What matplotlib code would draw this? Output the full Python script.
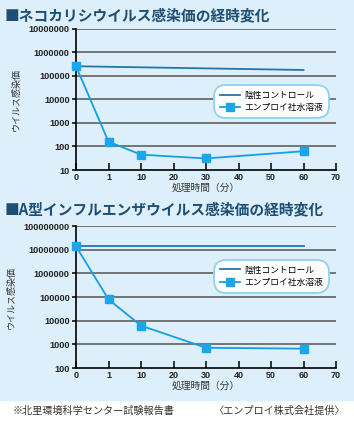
import matplotlib.pyplot as plt
import matplotlib.patches as mpatches
from matplotlib.ticker import FixedLocator, FuncFormatter
import numpy as np

plt.rcParams['font.family'] = ['Noto Sans CJK JP', 'DejaVu Sans']

# x軸の目盛（等間隔に並べる）
time_ticks = [0, 1, 10, 20, 30, 40, 50, 60, 70]

# ネコカリシウイルス
cat_titles = '■ネコカリシウイルス感染価の経時変化'
cat_ctrl_t = [0, 60]
cat_ctrl_v = [260000, 180000]
cat_trt_t = [0, 1, 10, 30, 60]
cat_trt_v = [260000, 160, 45, 31, 63]
cat_yticks = [10, 100, 1000, 10000, 100000, 1000000, 10000000]

# A型インフルエンザウイルス
flu_titles = '■A型インフルエンザウイルス感染価の経時変化'
flu_ctrl_t = [0, 60]
flu_ctrl_v = [14000000, 14000000]
flu_trt_t = [0, 1, 10, 30, 60]
flu_trt_v = [14000000, 80000, 6200, 720, 660]
flu_yticks = [100, 1000, 10000, 100000, 1000000, 10000000, 100000000]

bg = '#ddeffb'
ctrl_color = '#2474a8'
trt_color = '#12a0e3'
title_color = '#1d4e73'


def tpos(t):
    # 時間 -> 等間隔目盛の位置
    return np.interp(t, time_ticks, np.arange(len(time_ticks)))


def draw(ax, ctrl_t, ctrl_v, trt_t, trt_v, yticks, legend_y):
    ax.set_facecolor('none')
    ax.set_yscale('log')
    ax.set_ylim(yticks[0], yticks[-1])
    ax.set_xlim(0, len(time_ticks) - 1)
    for v in yticks[1:]:
        ax.axhline(v, color='#555555', lw=1.1, zorder=1)
    l1, = ax.plot(tpos(ctrl_t), ctrl_v, color=ctrl_color, lw=1.3, zorder=3,
                  label='陰性コントロール', clip_on=False)
    l2, = ax.plot(tpos(trt_t), trt_v, color=trt_color, lw=1.3, marker='s',
                  markersize=6, markerfacecolor='#1aa6ea', markeredgecolor='#1aa6ea',
                  zorder=4, label='エンプロイ社水溶液', clip_on=False)
    ax.spines['top'].set_visible(False)
    ax.spines['right'].set_visible(False)
    ax.spines['left'].set_linewidth(1.2)
    ax.spines['bottom'].set_linewidth(1.2)
    ax.xaxis.set_major_locator(FixedLocator(range(len(time_ticks))))
    ax.set_xticklabels([str(t) for t in time_ticks])
    ax.yaxis.set_major_locator(FixedLocator(yticks))
    ax.yaxis.set_minor_locator(FixedLocator([]))
    ax.yaxis.set_major_formatter(FuncFormatter(lambda v, p: f'{int(round(v))}'))
    ax.tick_params(axis='x', direction='in', length=5, width=1.1, labelsize=6.5, pad=2)
    ax.tick_params(axis='y', direction='out', length=3, width=1.1, labelsize=6.6, pad=1.5)
    for lab in ax.get_xticklabels() + ax.get_yticklabels():
        lab.set_family('Liberation Sans')
        lab.set_fontweight('bold')
        lab.set_color('#222222')
    ax.set_xlabel('処理時間（分）', fontsize=7, color='#333333', labelpad=1)
    ax.set_ylabel('ウイルス感染価', fontsize=6.5, color='#333333', labelpad=6)
    leg = ax.legend(handles=[l1, l2], loc='upper right', bbox_to_anchor=(0.965, legend_y),
                    fontsize=6.3, frameon=True, fancybox=True, handlelength=2.3,
                    borderpad=0.45, labelspacing=0.4, handletextpad=0.5,
                    borderaxespad=0)
    frame = leg.get_frame()
    frame.set_facecolor('white')
    frame.set_edgecolor('#8fd2f2')
    frame.set_linewidth(1.3)
    frame.set_alpha(1)
    frame.set_boxstyle('round,pad=0.2,rounding_size=1.4')


fig = plt.figure(figsize=(3.54, 4.25), dpi=100)
fig.patch.set_facecolor('white')
fig.add_artist(mpatches.Rectangle((0, 1 - 400 / 425), 1, 400 / 425,
                                  transform=fig.transFigure, color=bg, zorder=0))

ax1 = fig.add_axes([0.2147, 0.600, 0.7345, 0.3318])
draw(ax1, cat_ctrl_t, cat_ctrl_v, cat_trt_t, cat_trt_v, cat_yticks, 0.59)
ax2 = fig.add_axes([0.2147, 0.134, 0.7345, 0.334])
draw(ax2, flu_ctrl_t, flu_ctrl_v, flu_trt_t, flu_trt_v, flu_yticks, 0.75)

fig.text(0.012, 1 - 15.5 / 425, cat_titles, fontsize=10.6, fontweight='bold',
         color=title_color, va='center')
fig.text(0.012, 1 - 209 / 425, flu_titles, fontsize=10.6, fontweight='bold',
         color=title_color, va='center')

fig.text(0.037, 1 - 411 / 425, '※北里環境科学センター試験報告書', fontsize=7.3,
         color='#333333', va='center')
fig.text(0.975, 1 - 411 / 425, '〈エンプロイ株式会社提供〉', fontsize=7.3,
         color='#333333', va='center', ha='right')

fig.savefig('out.png', dpi=100, facecolor=fig.get_facecolor())
